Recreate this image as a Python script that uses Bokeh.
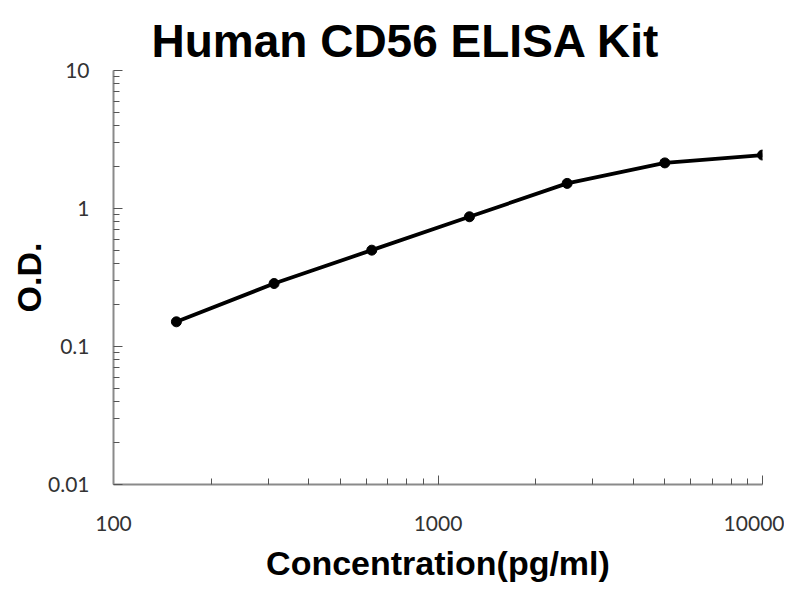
from bokeh.plotting import figure
from bokeh.models import Range1d, FixedTicker, CustomJSTickFormatter
from bokeh.embed import file_html
from bokeh.resources import INLINE

# Data
concentration = [156.25, 312.5, 625, 1250, 2500, 5000, 10000]
od_values = [0.151, 0.286, 0.499, 0.871, 1.52, 2.14, 2.44]

x_major = [100, 1000, 10000]
y_major = [0.01, 0.1, 1, 10]
x_minor = [m * 10 ** e for e in range(2, 4) for m in range(2, 10)]
y_minor = [m * 10.0 ** e for e in range(-2, 1) for m in range(2, 10)]

title_text = "Human CD56 ELISA Kit"
x_label = "Concentration(pg/ml)"
y_label = "O.D."

p = figure(
    width=784, height=584,
    x_axis_type="log", y_axis_type="log",
    x_range=Range1d(100, 10000), y_range=Range1d(0.01, 10),
    output_backend="svg", toolbar_location=None,
    min_border_left=113, min_border_right=22,
    min_border_top=70, min_border_bottom=100,
    title=title_text,
)
p.outline_line_color = None
p.xgrid.visible = False
p.ygrid.visible = False
p.background_fill_color = "white"
p.border_fill_color = "white"

p.title.align = "left"
p.title.offset = 38
p.title.vertical_align = "top"
p.title.text_font = "Liberation Sans"
p.title.text_font_style = "bold"
p.title.text_font_size = "46px"
p.title.text_color = "black"
p.title.standoff = 4

fmt = CustomJSTickFormatter(code="return tick.toString();")

for ax, major, minor, lab in ((p.xaxis[0], x_major, x_minor, x_label),
                               (p.yaxis[0], y_major, y_minor, y_label)):
    ax.ticker = FixedTicker(ticks=major, minor_ticks=minor)
    ax.formatter = fmt
    ax.axis_line_color = "#8a8a8a"
    ax.axis_line_width = 2
    ax.major_tick_line_color = "#555555"
    ax.minor_tick_line_color = "#555555"
    ax.major_tick_in = 9
    ax.major_tick_out = 0
    ax.minor_tick_in = 6
    ax.minor_tick_out = 0
    ax.major_label_text_font = "Lato"
    ax.major_label_text_font_size = "21px"
    ax.major_label_text_color = "#333333"
    ax.axis_label = lab
    ax.axis_label_text_font = "Liberation Sans"
    ax.axis_label_text_font_style = "bold"
    ax.axis_label_text_font_size = "34px"
    ax.axis_label_text_color = "black"

p.xaxis.major_label_standoff = 31
p.xaxis.axis_label_standoff = 10
p.yaxis.major_label_standoff = 24
p.yaxis.axis_label_standoff = -3

p.line(concentration, od_values, line_color="black", line_width=3.8)
p.scatter(concentration, od_values, size=10, fill_color="black", line_color="black")

open("out.html", "w").write(file_html(p, INLINE))
